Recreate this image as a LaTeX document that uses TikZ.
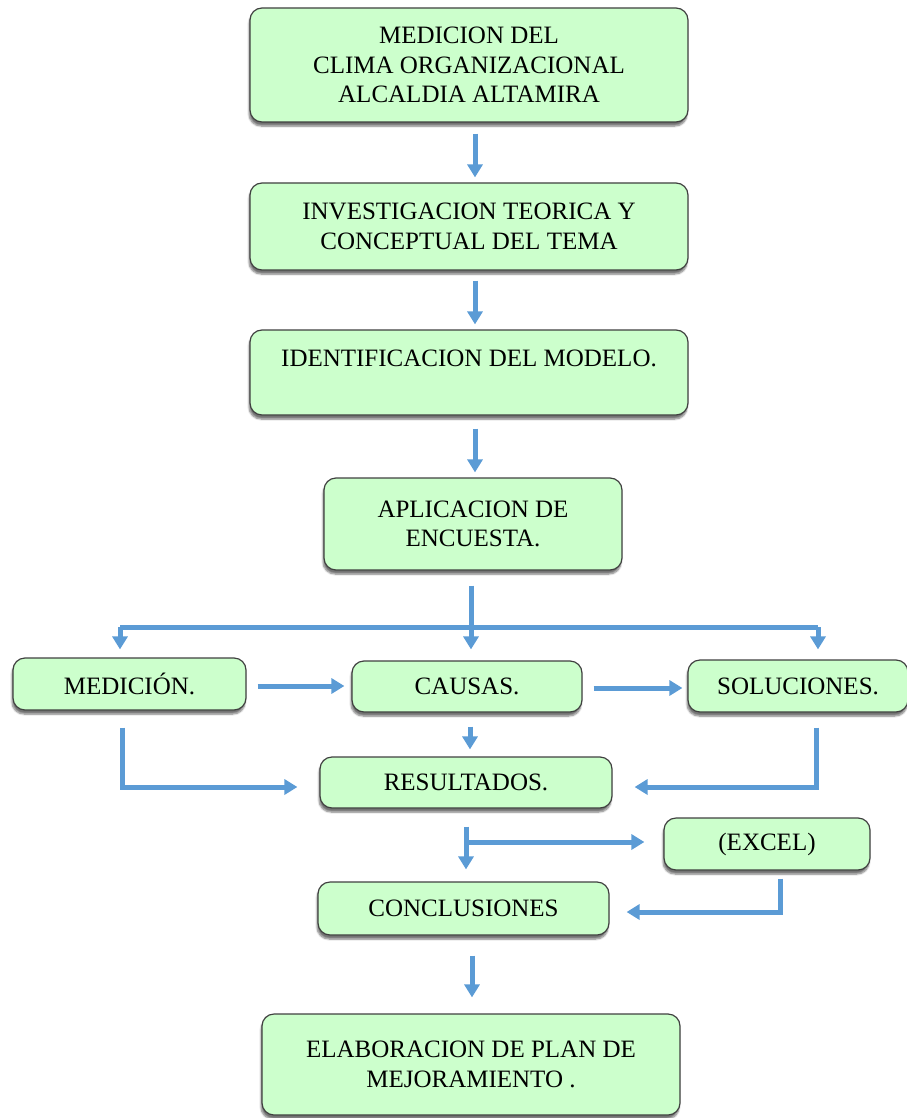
\documentclass[tikz,border=0pt]{standalone}
\usepackage{fontspec}
\setmainfont{Liberation Serif}
\usepackage{tikz}
\usetikzlibrary{arrows.meta,shadows.blur}
\definecolor{boxgreen}{RGB}{204,255,204}
\definecolor{flowblue}{RGB}{91,155,213}
\tikzset{
  stage/.style={
    draw=black!75,
    rectangle,
    rounded corners=12pt,
    fill=boxgreen,
    line width=1.2pt,
    align=center,
    inner sep=0pt,
    font=\fontsize{25}{29.5}\selectfont,
    blur shadow={shadow xshift=-1pt, shadow yshift=-4pt, shadow blur steps=6, shadow opacity=55},
  },
  bar/.style={draw=flowblue, line width=5pt},
  flow/.style={bar, -{Triangle[width=15pt,length=13pt]}},
}
\begin{document}
\begin{tikzpicture}[x=1pt,y=-1pt]
  \useasboundingbox (0,0) rectangle (906,1118);
  % main column
  \node[stage, minimum width=438pt, minimum height=114pt] (clima) at (469,65)
    {MEDICION DEL\\CLIMA ORGANIZACIONAL\\ALCALDIA ALTAMIRA};
  \node[stage, minimum width=438pt, minimum height=87pt] (teoria) at (469,226.5)
    {INVESTIGACION TEORICA Y\\CONCEPTUAL DEL TEMA};
  \node[stage, minimum width=438pt, minimum height=85pt] (modelo) at (469,372.5)
    {IDENTIFICACION DEL MODELO.\\~};
  \node[stage, minimum width=298pt, minimum height=92pt] (encuesta) at (473,524)
    {APLICACION DE\\ENCUESTA.};
  % middle row
  \node[stage, minimum width=233pt, minimum height=52pt] (medicion) at (129.5,684) {MEDICI\'ON.};
  \node[stage, minimum width=230pt, minimum height=51pt] (causas) at (467,686.5) {CAUSAS.};
  \node[stage, minimum width=220pt, minimum height=52pt] (soluciones) at (798,686) {SOLUCIONES.};
  \node[stage, minimum width=292pt, minimum height=51pt] (resultados) at (466,782.5) {RESULTADOS.};
  \node[stage, minimum width=206pt, minimum height=52pt] (excel) at (767,844) {(EXCEL)};
  \node[stage, minimum width=291pt, minimum height=53pt] (conclusiones) at (463.5,908.5) {CONCLUSIONES};
  \node[stage, minimum width=418pt, minimum height=101pt] (plan) at (471,1064.5)
    {ELABORACION DE PLAN DE\\MEJORAMIENTO .};

  % connectors
  \draw[flow, shorten <=11pt, shorten >=5pt] ([xshift=6pt]clima.south) -- ([xshift=6pt]teoria.north);
  \draw[flow, shorten <=10pt, shorten >=5pt] ([xshift=6pt]teoria.south) -- ([xshift=6pt]modelo.north);
  \draw[flow, shorten <=13pt, shorten >=5pt] ([xshift=6pt]modelo.south) -- ([xshift=2pt]encuesta.north);
  \draw[flow, shorten <=15pt, shorten >=11pt] ([xshift=-2pt]encuesta.south) -- ([xshift=4pt]causas.north);

  \coordinate (barL) at (120,627);
  \coordinate (barR) at (818,627);
  \draw[bar, line cap=square] (barL) -- (barR);
  \draw[flow, shorten >=8pt] (barL) -- (barL |- medicion.north);
  \draw[flow, shorten >=10pt] (barR) -- (barR |- soluciones.north);

  \draw[flow, shorten <=11pt, shorten >=7pt] ([yshift=-2pt]medicion.east) -- ([yshift=-2pt]medicion.east -| causas.west);
  \draw[flow, shorten <=11pt, shorten >=5pt] ([yshift=-1.5pt]causas.east) -- ([yshift=-1.5pt]causas.east -| soluciones.west);
  \draw[flow, shorten <=14pt, shorten >=7pt] ([xshift=3pt]causas.south) -- ([xshift=3pt]causas.south |- resultados.north);

  \draw[flow, shorten <=17pt, shorten >=22pt] ([xshift=-7.5pt]medicion.south) |- ([yshift=-4.5pt]resultados.west);
  \draw[flow, shorten <=15pt, shorten >=22pt] ([xshift=18pt]soluciones.south) |- ([yshift=-4.5pt]resultados.east);

  \draw[flow, shorten <=18pt, shorten >=12pt] (resultados.south) -- (resultados.south |- conclusiones.north);
  \coordinate (fork) at (466,842);
  \draw[flow, shorten >=19pt] (fork) -- (fork -| excel.west);
  \draw[flow, shorten <=8pt, shorten >=17pt] ([xshift=13pt]excel.south) |- ([yshift=-3.5pt]conclusiones.east);

  \draw[flow, shorten <=20pt, shorten >=16pt] ([xshift=8.5pt]conclusiones.south) -- ([xshift=1pt]plan.north);
\end{tikzpicture}
\end{document}
